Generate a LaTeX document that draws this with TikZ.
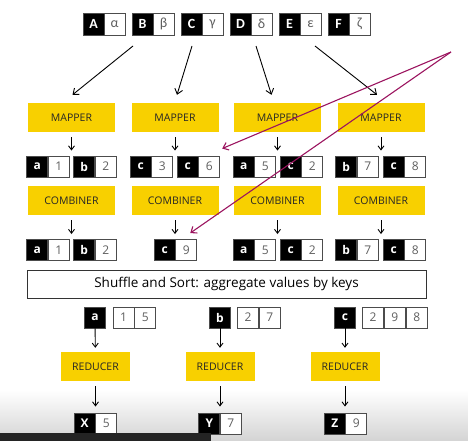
\documentclass[tikz,border=0pt]{standalone}
\usepackage{fontspec}
\setmainfont{Open Sans}
\newfontfamily\topfont{Carlito}
\usepackage{tikz}
\usetikzlibrary{positioning, arrows.meta}

\definecolor{stageyellow}{RGB}{248,208,0}
\definecolor{penpurple}{RGB}{155,20,95}
\definecolor{cellgray}{RGB}{95,95,95}

\tikzset{
	cell/.style={draw=black!70, line width=0.9pt, minimum width=21pt, minimum height=21pt, inner sep=0pt},
	keycell/.style={cell, fill=black, text=white, font=\fontsize{12}{12}\selectfont\bfseries},
	valcell/.style={cell, fill=white, text=cellgray, font=\fontsize{12}{12}\selectfont},
	stage/.style={fill=stageyellow, text=black!85, minimum width=87pt, minimum height=29pt, inner sep=0pt, font=\fontsize{10.5}{10.5}\selectfont},
	sarrow/.style={-{Straight Barb[length=4pt, width=6pt]}, line width=0.9pt},
	bigarrow/.style={-{Straight Barb[length=5pt, width=8pt]}, line width=0.9pt},
	pen/.style={-{Straight Barb[length=5pt, width=8pt]}, penpurple, line width=1.1pt}
}

% key/value pair: name, x, y, key, value
\newcommand{\kvpair}[5]{
	\node[keycell] (#1k) at (#2-10.75, #3) {#4};
	\node[valcell] (#1v) at (#2+10.75, #3) {#5};
}

\begin{document}
\begin{tikzpicture}[x=1pt, y=-1pt]
	\useasboundingbox (0, 0) rectangle (468, 441);

	% bottom darkening of the screen
	\shade[top color=white, bottom color=black!17] (0, 390) rectangle (468, 441);

	% input records
	\foreach \k/\v [count=\i] in {A/α, B/β, C/γ, D/δ, E/ε, F/ζ}{
		\node[keycell, minimum height=22pt, font=\topfont\fontsize{14}{14}\selectfont\bfseries] (in\i k) at (104-10.5+49*\i-49, 24) {\k};
		\node[valcell, minimum height=22pt, font=\topfont\fontsize{14}{14}\selectfont] (in\i v) at (104+10.5+49*\i-49, 24) {\v};
	}

	\coordinate (s1) at (133, 46);
	\coordinate (s2) at (192, 46);
	\coordinate (s3) at (256, 46);
	\coordinate (s4) at (315, 46);

	% mappers and combiners
	\foreach \x [count=\i] in {71.5, 175, 277.5, 381}{
		\node[stage] (map\i) at (\x, 117.5) {MAPPER};
		\node[stage] (comb\i) at (\x, 200.5) {COMBINER};
	}

	\draw[bigarrow] (s1) -- ([shift={(1pt, 8pt)}]map1.north);
	\draw[bigarrow] (s2) -- ([shift={(2pt, 8pt)}]map2.north);
	\draw[bigarrow] (s3) -- ([shift={(-6pt, 8pt)}]map3.north);
	\draw[bigarrow] (s4) -- ([shift={(-4pt, 8pt)}]map4.north);

	% mapper output
	\kvpair{ma}{48}{166.5}{a}{1}
	\kvpair{mb}{95}{166.5}{b}{2}
	\kvpair{mc}{151.5}{166.5}{c}{3}
	\kvpair{md}{198.5}{166.5}{c}{6}
	\kvpair{me}{254.5}{166.5}{a}{5}
	\kvpair{mf}{301.5}{166.5}{c}{2}
	\kvpair{mg}{357}{166.5}{b}{7}
	\kvpair{mh}{404.5}{166.5}{c}{8}

	% combiner output
	\kvpair{ca}{48}{250}{a}{1}
	\kvpair{cb}{95}{250}{b}{2}
	\kvpair{cc}{175.5}{250}{c}{9}
	\kvpair{ce}{254.5}{250}{a}{5}
	\kvpair{cf}{301.5}{250}{c}{2}
	\kvpair{cg}{357}{250}{b}{7}
	\kvpair{ch}{404.5}{250}{c}{8}

	\foreach \i in {1,...,4}{
		\draw[sarrow, shorten <=5pt, shorten >=5pt] (map\i) -- (map\i |- mak.north);
		\draw[sarrow, shorten <=5pt, shorten >=5pt] (comb\i) -- (comb\i |- cak.north);
	}

	% shuffle
	\node[draw=black!80, line width=0.9pt, minimum width=399pt, minimum height=28pt, inner sep=0pt, font=\fontsize{13.5}{13.5}\selectfont] (shuffle) at (226.5, 284) {Shuffle and Sort: aggregate values by keys};

	% grouped keys
	\node[keycell] (ka) at (95, 317.5) {a};
	\node[valcell] (ka1) at (123.5, 317.5) {1};
	\node[valcell, right=0pt of ka1] (ka2) {5};
	\node[keycell] (kb) at (220, 317.5) {b};
	\node[valcell] (kb1) at (248, 317.5) {2};
	\node[valcell, right=0pt of kb1] (kb2) {7};
	\node[keycell] (kc) at (345, 317.5) {c};
	\node[valcell] (kc1) at (373, 317.5) {2};
	\node[valcell, right=0pt of kc1] (kc2) {9};
	\node[valcell, right=0pt of kc2] (kc3) {8};

	% reducers
	\node[stage, minimum width=69pt] (red1) at (95.5, 366.5) {REDUCER};
	\node[stage, minimum width=69pt] (red2) at (220, 366.5) {REDUCER};
	\node[stage, minimum width=69pt] (red3) at (345, 366.5) {REDUCER};

	\kvpair{ox}{95.5}{423.5}{X}{5}
	\kvpair{oy}{220}{423.5}{Y}{7}
	\kvpair{oz}{345.5}{423.5}{Z}{9}

	\draw[sarrow, shorten >=4pt] (ka) -- (red1);
	\draw[sarrow, shorten >=4pt] (kb) -- (red2);
	\draw[sarrow, shorten >=4pt] (kc) -- (red3);
	\draw[sarrow, shorten <=5pt, shorten >=6pt] (red1) -- (red1 |- oxk.north);
	\draw[sarrow, shorten <=5pt, shorten >=6pt] (red2) -- (red2 |- oyk.north);
	\draw[sarrow, shorten <=5pt, shorten >=6pt] (red3) -- (red3 |- ozk.north);

	% pen annotation
	\coordinate (tip) at (451, 52);
	\draw[pen] (tip) -- ([shift={(2pt, 7pt)}]mdv.north east);
	\draw[pen] (tip) -- ([shift={(4pt, 6pt)}]ccv.north);

	% caption bar
	\fill[black!86] (0, 433) rectangle (211, 441);
\end{tikzpicture}
\end{document}
